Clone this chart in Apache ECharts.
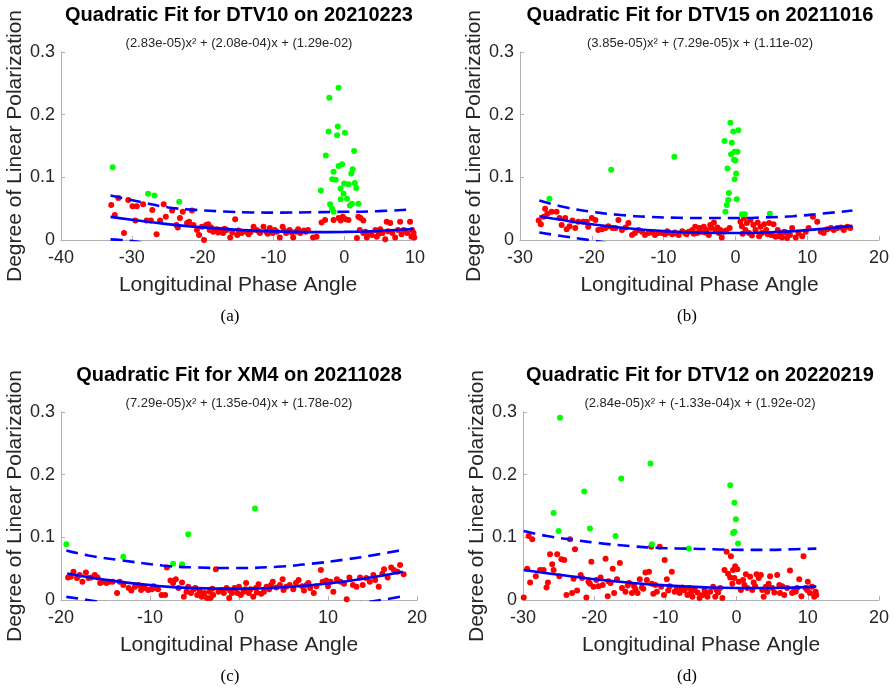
<!DOCTYPE html>
<html><head><meta charset="utf-8">
<script src="https://cdn.jsdelivr.net/npm/echarts@6/dist/echarts.min.js"></script>
<style>html,body{margin:0;padding:0;background:#fff}#c{width:894px;height:690px}</style>
</head><body><div id="c"></div>
<script>
// ---- Panel (a) DTV10 20210223 ----
const A_TITLE = "Quadratic Fit for DTV10 on 20210223";
const A_EQ = "(2.83e-05)x\u00B2 + (2.08e-04)x + (1.29e-02)";
const A_XTICKS = [-40, 10, 10];
const A_RED = [[-32.9,0.056],[-31.9,0.067],[-32.4,0.040],[-31.1,0.011],[-30.5,0.064],[-29.9,0.054],[-29.3,0.054],[-29.5,0.031],[-28.4,0.057],[-27.9,0.031],[-27.3,0.031],[-27.1,0.048],[-26.5,0.009],[-26.0,0.031],[-25.5,0.057],[-25.2,0.037],[-24.3,0.047],[-23.7,0.024],[-23.2,0.035],[-22.8,0.045],[-21.9,0.029],[-21.5,0.047],[-21.3,0.024],[-20.8,0.016],[-20.5,0.008],[-20.1,0.021],[-19.8,0.000],[-19.5,0.024],[-19.2,0.025],[-19.0,0.016],[-18.5,0.013],[-18.0,0.017],[-17.5,0.016],[-17.1,0.011],[-16.6,0.016],[-16.1,0.004],[-15.4,0.033],[-15.1,0.008],[-14.5,0.011],[-13.8,0.013],[-13.2,0.013],[-12.8,0.021],[-12.4,0.016],[-11.9,0.011],[-11.4,0.021],[-11.0,0.013],[-10.5,0.019],[-10.1,0.011],[-9.5,0.013],[-9.1,0.004],[-8.7,0.021],[-8.2,0.011],[-7.7,0.016],[-7.2,0.004],[-6.8,0.013],[-6.2,0.011],[-5.7,0.015],[-5.1,0.016],[-4.4,0.004],[-3.9,0.005],[-3.2,0.028],[-2.7,0.032],[-1.5,0.032],[-0.8,0.035],[-0.5,0.031],[-0.2,0.037],[0.6,0.032],[1.8,0.003],[2.0,0.037],[2.3,0.035],[2.7,0.031],[2.2,0.016],[2.7,0.011],[3.2,0.004],[3.5,0.011],[3.9,0.008],[4.4,0.016],[4.6,0.005],[5.1,0.017],[5.4,0.011],[5.8,0.001],[6.0,0.029],[6.5,0.027],[6.8,0.011],[7.2,0.004],[7.6,0.016],[7.9,0.029],[8.4,0.016],[8.9,0.011],[9.3,0.029],[9.5,0.005],[9.8,0.011],[9.9,0.004],[9.6,0.016],[-18.8,0.020],[-17.8,0.012],[-16.9,0.018],[-15.8,0.012],[-14.9,0.015],[-13.5,0.009],[-12.1,0.014],[-10.8,0.010],[-9.8,0.016],[-8.5,0.015],[-7.4,0.012],[-6.5,0.017],[-5.4,0.013],[-22.2,0.027],[-23.5,0.020],[0.2,0.033],[3.0,0.013],[4.9,0.010],[6.2,0.014],[8.1,0.009]];
const A_GREEN = [[-32.7,0.116],[-27.7,0.074],[-26.8,0.071],[-23.3,0.061],[-3.3,0.079],[-2.6,0.135],[-2.2,0.173],[-2.1,0.227],[-2.0,0.057],[-1.7,0.050],[-1.5,0.045],[-1.7,0.097],[-1.5,0.109],[-1.2,0.096],[-0.9,0.181],[-1.0,0.167],[-0.8,0.243],[-0.8,0.118],[-0.5,0.065],[-0.3,0.121],[-0.5,0.082],[-0.1,0.074],[0.1,0.171],[0.0,0.090],[0.4,0.066],[0.6,0.089],[0.8,0.055],[1.0,0.106],[1.2,0.113],[1.4,0.142],[1.5,0.091],[1.7,0.083],[2.0,0.058],[1.1,0.058]];
const A_FIT = [[-33,0.0369],[-30,0.0322],[-25,0.0254],[-20,0.0201],[-15,0.0162],[-10,0.0137],[-5,0.0126],[0,0.0129],[5,0.0146],[9.7,0.0176]];
const A_UP = [[-33,0.071],[-28,0.059],[-24.8,0.052],[-21,0.048],[-17,0.0455],[-13,0.044],[-9,0.0437],[-4.8,0.0442],[-1.5,0.0448],[4.8,0.046],[9.7,0.049]];
const A_LOW = [[-33,0.001],[-31.5,0.0],[-29,-0.003],[-26,-0.007]];

// ---- Panel (b) DTV15 20211016 ----
const B_TITLE = "Quadratic Fit for DTV15 on 20211016";
const B_EQ = "(3.85e-05)x\u00B2 + (7.29e-05)x + (1.11e-02)";
const B_XTICKS = [-30, 20, 10];
const B_RED = [[-27.4,0.031],[-27.1,0.025],[-26.7,0.037],[-26.5,0.050],[-26.2,0.042],[-25.6,0.045],[-24.9,0.045],[-24.5,0.035],[-24.2,0.024],[-23.7,0.035],[-23.5,0.017],[-23.1,0.022],[-22.7,0.031],[-22.3,0.019],[-21.9,0.029],[-21.2,0.029],[-20.7,0.029],[-20.5,0.021],[-20.0,0.035],[-19.5,0.032],[-19.1,0.016],[-18.6,0.017],[-18.1,0.019],[-17.7,0.022],[-17.1,0.019],[-16.7,0.019],[-16.3,0.032],[-15.8,0.016],[-15.3,0.020],[-14.9,0.027],[-14.4,0.008],[-14.0,0.011],[-13.5,0.016],[-13.0,0.013],[-12.6,0.008],[-12.1,0.011],[-11.6,0.012],[-11.2,0.008],[-10.7,0.011],[-10.2,0.011],[-9.8,0.009],[-9.3,0.012],[-8.8,0.009],[-8.4,0.012],[-7.9,0.008],[-7.4,0.014],[-7.0,0.011],[-6.5,0.013],[-6.0,0.016],[-5.6,0.021],[-5.3,0.011],[-5.0,0.019],[-4.7,0.013],[-4.4,0.021],[-4.0,0.016],[-3.7,0.008],[-3.5,0.024],[-3.3,0.019],[-3.0,0.028],[-2.7,0.016],[-2.3,0.011],[-2.1,0.016],[-1.9,0.004],[-1.6,0.013],[-0.8,0.019],[-1.3,0.015],[0.7,0.029],[0.9,0.022],[1.2,0.035],[1.4,0.016],[1.6,0.027],[1.9,0.011],[2.1,0.032],[2.5,0.024],[2.8,0.016],[3.1,0.028],[3.5,0.021],[3.7,0.011],[4.0,0.025],[4.3,0.016],[4.7,0.027],[5.0,0.008],[5.3,0.025],[5.6,0.005],[5.9,0.016],[6.3,0.011],[6.5,0.004],[6.8,0.013],[7.2,0.003],[7.6,0.008],[7.9,0.019],[8.4,0.004],[8.8,0.011],[9.3,0.006],[9.8,0.013],[10.2,0.019],[10.8,0.037],[11.4,0.029],[11.9,0.013],[12.3,0.011],[12.8,0.017],[13.3,0.019],[13.7,0.016],[14.2,0.019],[14.7,0.020],[15.1,0.016],[15.6,0.021],[16.0,0.019],[-9.5,0.014],[-8.1,0.010],[-6.8,0.009],[-5.8,0.010],[-4.2,0.012],[-2.5,0.020],[1.0,0.010],[2.3,0.007],[3.3,0.006],[4.5,0.009],[6.0,0.006],[7.0,0.012]];
const B_GREEN = [[-25.9,0.066],[-17.3,0.112],[-8.5,0.133],[-1.5,0.158],[-1.4,0.045],[-1.2,0.056],[-1.1,0.114],[-1.0,0.064],[-0.9,0.075],[-0.7,0.187],[-0.6,0.137],[-0.5,0.155],[-0.3,0.173],[-0.2,0.128],[-0.1,0.141],[0.0,0.127],[-0.1,0.097],[0.1,0.106],[0.2,0.065],[0.3,0.141],[0.4,0.175],[0.9,0.041],[1.3,0.041],[4.8,0.042]];
const B_FIT = [[-27.3,0.0378],[-25,0.0334],[-20,0.0250],[-15,0.0187],[-10,0.0142],[-5,0.0117],[0,0.0111],[5,0.0124],[10,0.0157],[16.3,0.0225]];
const B_UP = [[-27.3,0.063],[-24,0.053],[-20,0.045],[-16,0.040],[-12,0.037],[-8,0.0355],[-4,0.035],[0,0.035],[4,0.036],[8,0.038],[12,0.042],[16.3,0.047]];
const B_LOW = [[-27.3,0.012],[-24,0.006],[-21,0.001],[-18,-0.004]];

// ---- Panel (c) XM4 20211028 ----
const C_TITLE = "Quadratic Fit for XM4 on 20211028";
const C_EQ = "(7.29e-05)x\u00B2 + (1.35e-04)x + (1.78e-02)";
const C_XTICKS = [-20, 20, 10];
const C_RED = [[-19.2,0.036],[-18.9,0.037],[-18.6,0.045],[-18.2,0.035],[-17.9,0.040],[-17.6,0.029],[-17.2,0.044],[-16.9,0.035],[-16.6,0.036],[-16.2,0.040],[-15.9,0.036],[-15.6,0.027],[-15.3,0.029],[-14.9,0.027],[-14.6,0.029],[-14.2,0.029],[-13.7,0.011],[-13.4,0.029],[-13.0,0.024],[-12.4,0.019],[-12.1,0.015],[-11.7,0.021],[-11.3,0.024],[-10.9,0.021],[-10.6,0.019],[-10.2,0.016],[-9.8,0.017],[-9.4,0.019],[-9.1,0.017],[-8.7,0.008],[-8.3,0.008],[-8.1,0.052],[-7.7,0.031],[-7.4,0.027],[-7.1,0.033],[-6.8,0.019],[-6.4,0.028],[-6.2,0.005],[-5.9,0.013],[-5.7,0.021],[-5.4,0.011],[-5.1,0.017],[-4.7,0.008],[-4.4,0.013],[-4.2,0.005],[-3.9,0.011],[-3.6,0.003],[-3.3,0.013],[-3.2,0.003],[-2.9,0.008],[-2.6,0.049],[-2.3,0.013],[-2.0,0.016],[-1.7,0.011],[-1.4,0.019],[-1.1,0.003],[-0.8,0.011],[-0.5,0.019],[-0.2,0.011],[0.0,0.021],[0.2,0.008],[0.5,0.013],[0.8,0.027],[1.1,0.011],[1.3,0.017],[1.6,0.005],[1.9,0.019],[2.2,0.025],[2.5,0.010],[2.8,0.013],[3.1,0.021],[3.4,0.017],[3.8,0.029],[4.2,0.020],[4.6,0.024],[4.9,0.033],[5.3,0.021],[5.7,0.024],[6.1,0.017],[6.4,0.027],[6.7,0.032],[7.1,0.022],[7.3,0.015],[7.6,0.024],[8.0,0.019],[8.4,0.011],[8.7,0.022],[9.2,0.048],[9.4,0.029],[9.8,0.031],[10.3,0.029],[10.6,0.013],[11.0,0.033],[11.4,0.029],[12.1,0.001],[12.4,0.036],[12.8,0.024],[13.2,0.021],[13.6,0.036],[13.9,0.024],[14.3,0.035],[14.7,0.029],[15.1,0.040],[15.3,0.032],[15.7,0.021],[16.1,0.042],[16.3,0.049],[16.7,0.036],[17.1,0.052],[17.4,0.048],[17.8,0.045],[18.1,0.056],[18.5,0.041],[-11.0,0.016],[-9.6,0.022],[-4.9,0.019],[-3.0,0.018],[-1.0,0.015],[0.7,0.017],[2.0,0.012],[3.6,0.024],[5.0,0.016],[7.8,0.027],[10.0,0.022],[11.8,0.026]];
const C_GREEN = [[-19.4,0.089],[-13.0,0.069],[-7.4,0.058],[-6.4,0.057],[-5.7,0.105],[1.8,0.146]];
const C_FIT = [[-19.3,0.0423],[-15,0.0322],[-10,0.0237],[-5,0.0189],[0,0.0178],[5,0.0203],[10,0.0264],[15,0.0362],[18.4,0.0450]];
const C_UP = [[-19.4,0.079],[-16.9,0.071],[-13.5,0.064],[-8.6,0.055],[-5,0.052],[-0.5,0.051],[4.2,0.053],[8.2,0.058],[12.1,0.065],[15.3,0.072],[18.4,0.080]];
const C_LOW = [[-19.4,0.005],[-17,0.0],[-14,-0.007],[-10,-0.012],[0,-0.016],[10,-0.011],[14,-0.004],[16,0.0],[18.4,0.006]];

// ---- Panel (d) DTV12 20220219 ----
const D_TITLE = "Quadratic Fit for DTV12 on 20220219";
const D_EQ = "(2.84e-05)x\u00B2 + (-1.33e-04)x + (1.92e-02)";
const D_XTICKS = [-30, 20, 10];
const D_RED = [[-29.9,0.004],[-29.4,0.050],[-29.2,0.102],[-29.0,0.028],[-28.7,0.097],[-27.6,0.048],[-27.1,0.048],[-26.7,0.020],[-26.5,0.028],[-26.2,0.073],[-25.9,0.057],[-25.7,0.048],[-25.2,0.073],[-24.6,0.065],[-24.2,0.064],[-23.9,0.008],[-23.4,0.097],[-23.1,0.011],[-22.7,0.081],[-22.4,0.015],[-21.9,0.040],[-21.7,0.035],[-21.1,0.004],[-20.8,0.029],[-20.4,0.061],[-20.1,0.021],[-19.7,0.032],[-19.4,0.022],[-19.1,0.036],[-18.8,0.024],[-18.4,0.066],[-18.1,0.006],[-17.7,0.027],[-17.4,0.050],[-17.2,0.011],[-16.8,0.033],[-16.4,0.059],[-16.1,0.019],[-15.6,0.013],[-15.1,0.027],[-14.7,0.011],[-14.2,0.017],[-13.9,0.011],[-13.6,0.033],[-13.3,0.020],[-12.8,0.044],[-12.6,0.032],[-12.3,0.045],[-12.0,0.085],[-11.7,0.010],[-11.4,0.024],[-11.2,0.013],[-10.8,0.085],[-10.6,0.021],[-10.2,0.008],[-10.1,0.064],[-9.8,0.033],[-9.4,0.022],[-9.1,0.045],[-8.7,0.013],[-8.4,0.019],[-8.0,0.011],[-7.6,0.020],[-7.3,0.015],[-6.9,0.008],[-6.6,0.019],[-6.2,0.005],[-5.9,0.016],[-5.5,0.012],[-5.2,0.003],[-4.8,0.008],[-4.5,0.016],[-4.1,0.005],[-3.7,0.013],[-3.3,0.021],[-3.0,0.005],[-2.6,0.012],[-2.3,0.019],[-2.0,0.003],[-1.7,0.048],[-1.4,0.077],[-1.2,0.042],[-0.9,0.036],[-0.8,0.070],[-0.5,0.048],[-0.3,0.035],[-0.2,0.054],[0.1,0.049],[0.3,0.029],[0.6,0.016],[0.9,0.032],[1.3,0.041],[1.5,0.019],[1.9,0.037],[2.2,0.016],[2.4,0.028],[2.8,0.041],[3.1,0.035],[3.4,0.040],[3.6,0.016],[3.8,0.005],[4.1,0.021],[4.3,0.013],[4.7,0.038],[5.0,0.019],[5.3,0.012],[5.7,0.040],[6.1,0.011],[6.4,0.022],[6.7,0.008],[7.1,0.019],[7.5,0.047],[7.8,0.011],[8.1,0.017],[8.5,0.019],[8.8,0.033],[9.1,0.006],[9.4,0.070],[9.7,0.019],[10.0,0.029],[10.3,0.011],[10.6,0.021],[10.9,0.005],[11.1,0.013],[11.2,0.008],[-28.2,0.038],[-24.9,0.038],[-22.9,0.034],[-20.6,0.026],[-18.0,0.030],[-15.3,0.023],[-14.4,0.022],[-13.1,0.018],[-11.9,0.026],[-9.6,0.015],[-7.8,0.018],[-6.4,0.012],[-4.3,0.010],[-2.8,0.016],[-0.6,0.026],[1.1,0.024],[2.6,0.022],[4.5,0.026],[6.0,0.024],[8.3,0.013],[9.9,0.016]];
const D_GREEN = [[-25.0,0.110],[-24.8,0.291],[-25.7,0.139],[-21.4,0.173],[-20.6,0.114],[-17.0,0.102],[-16.2,0.194],[-12.1,0.218],[-11.9,0.089],[-6.7,0.082],[-0.9,0.183],[-0.5,0.107],[-0.3,0.109],[-0.3,0.155],[-0.1,0.129],[0.2,0.090]];
const D_FIT = [[-29.9,0.048],[-25,0.0403],[-20,0.0332],[-15,0.0276],[-10,0.0234],[-5,0.0206],[0,0.0192],[5,0.0192],[11.2,0.0213]];
const D_UP = [[-29.9,0.110],[-26.6,0.102],[-22.9,0.096],[-18.7,0.090],[-14.9,0.086],[-10.7,0.083],[-6.9,0.082],[-3.2,0.081],[0.6,0.080],[4.3,0.080],[8.1,0.081],[11.2,0.082]];
const D_LOW = [];

const Y_TICKS = [0, 0.3, 0.1];
const X_NAME = "Longitudinal Phase Angle";
const Y_NAME = "Degree of Linear Polarization";
const CAPTIONS = ["(a)", "(b)", "(c)", "(d)"];

const panels = [
  {t:A_TITLE, eq:A_EQ, xt:A_XTICKS, red:A_RED, green:A_GREEN, fit:A_FIT, up:A_UP, low:A_LOW,
   grid:{left:61, top:52, width:354, height:188}, cx:239, ty:15, ey:43, cap:[230,317]},
  {t:B_TITLE, eq:B_EQ, xt:B_XTICKS, red:B_RED, green:B_GREEN, fit:B_FIT, up:B_UP, low:B_LOW,
   grid:{left:520, top:52, width:359, height:188}, cx:700, ty:15, ey:43, cap:[687,317]},
  {t:C_TITLE, eq:C_EQ, xt:C_XTICKS, red:C_RED, green:C_GREEN, fit:C_FIT, up:C_UP, low:C_LOW,
   grid:{left:61, top:412, width:356, height:188}, cx:239, ty:375, ey:403, cap:[230,677]},
  {t:D_TITLE, eq:D_EQ, xt:D_XTICKS, red:D_RED, green:D_GREEN, fit:D_FIT, up:D_UP, low:D_LOW,
   grid:{left:523, top:412, width:356, height:188}, cx:700, ty:375, ey:403, cap:[687,677]}
];

const FONT = "'Liberation Sans', Arial, Helvetica, sans-serif";
const AX = '#b0b0b0';
const TXT = '#262626';
const grids=[], xAxes=[], yAxes=[], series=[], graphics=[];
panels.forEach((p,i)=>{
  grids.push(Object.assign({containLabel:false}, p.grid));
  xAxes.push({type:'value', gridIndex:i, min:p.xt[0], max:p.xt[1], interval:p.xt[2],
    name:X_NAME, nameLocation:'middle', nameGap:35,
    nameTextStyle:{fontFamily:FONT, fontSize:21, color:TXT},
    axisLine:{show:true, onZero:false, lineStyle:{color:AX, width:1}},
    axisTick:{show:true, inside:true, length:4, lineStyle:{color:AX}},
    axisLabel:{fontFamily:FONT, fontSize:18, color:TXT, margin:9, showMinLabel:true, showMaxLabel:true},
    splitLine:{show:false}});
  yAxes.push({type:'value', gridIndex:i, min:Y_TICKS[0], max:Y_TICKS[1], interval:Y_TICKS[2],
    name:Y_NAME, nameLocation:'middle', nameGap:35, nameRotate:90,
    nameTextStyle:{fontFamily:FONT, fontSize:21, color:TXT},
    axisLine:{show:true, onZero:false, lineStyle:{color:AX, width:1}},
    axisTick:{show:true, inside:true, length:4, lineStyle:{color:AX}},
    axisLabel:{fontFamily:FONT, fontSize:18, color:TXT, margin:6, formatter:v=>String(+v.toFixed(1))},
    splitLine:{show:false}});
  series.push({type:'scatter', xAxisIndex:i, yAxisIndex:i, data:p.red, symbolSize:6,
    itemStyle:{color:'#ff0000', opacity:1}, silent:true, z:2});
  series.push({type:'scatter', xAxisIndex:i, yAxisIndex:i, data:p.green, symbolSize:6,
    itemStyle:{color:'#00ff00', opacity:1}, silent:true, z:2});
  series.push({type:'line', xAxisIndex:i, yAxisIndex:i, data:p.fit, smooth:0.5, showSymbol:false,
    lineStyle:{color:'#0000ff', width:2.6}, silent:true, z:4, clip:true});
  [p.up, p.low].forEach(d=>{
    if(!d.length) return;
    series.push({type:'line', xAxisIndex:i, yAxisIndex:i, data:d, smooth:0.5, showSymbol:false,
      lineStyle:{color:'#0000ff', width:2.6, type:[12,7]}, silent:true, z:4, clip:true});
  });
  graphics.push({type:'text', x:p.cx, y:p.ty, style:{text:p.t, font:"bold 20px "+FONT, fill:'#000', textAlign:'center', textVerticalAlign:'middle'}});
  graphics.push({type:'text', x:p.cx, y:p.ey, style:{text:p.eq, font:"13px "+FONT, fill:TXT, textAlign:'center', textVerticalAlign:'middle'}});
  graphics.push({type:'text', x:p.cap[0], y:p.cap[1], style:{text:CAPTIONS[i], font:"17px 'Liberation Serif', 'DejaVu Serif', serif", fill:'#000', textAlign:'center', textVerticalAlign:'middle'}});
});

const chart = echarts.init(document.getElementById('c'), null, {renderer:'canvas'});
chart.setOption({animation:false, backgroundColor:'#fff', grid:grids, xAxis:xAxes, yAxis:yAxes, series:series, graphic:graphics});
</script></body></html>
